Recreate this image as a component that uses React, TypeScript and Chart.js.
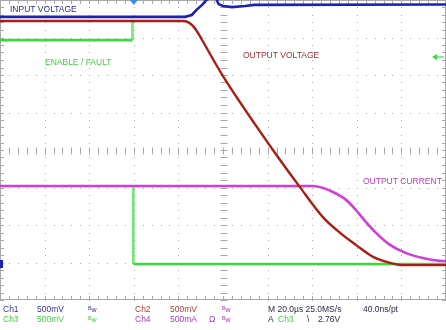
import React, { useEffect, useRef } from "react";
import { Chart, registerables } from "chart.js";

Chart.register(...registerables);

// Time axis in µs (20 µs/div, trigger at 0), vertical axis in divisions (8 div, centre 0)
const timeMin = -60;
const timeMax = 140;
const timePerDiv = 20;
const divMin = -4;
const divMax = 4;

// Ch1 – INPUT VOLTAGE (blue)
const ch1Time = [-60, 23, 26, 28, 31, 32.5, 34, 37, 38, 40, 44, 50, 54, 140];
const ch1Div = [3.55, 3.55, 3.6, 3.73, 3.89, 4.0, 4.05, 4.03, 3.89, 3.84, 3.81, 3.84, 3.87, 3.88];

// Ch2 – OUTPUT VOLTAGE (dark red)
const ch2Time = [-60, 22, 24.3, 26.5, 28.8, 31.9, 40, 62.4, 74.5, 84.8, 92.5, 99.6, 107.3, 114.9, 120.7, 140];
const ch2Div = [3.44, 3.44, 3.41, 3.31, 3.12, 2.8, 1.97, 0, -0.99, -1.79, -2.21, -2.53, -2.85, -3.01, -3.07, -3.07];

// Ch3 – ENABLE / FAULT (green)
const ch3Time = [-60, -0.6, -0.6, -0.2, -0.2, 140];
const ch3Div = [2.93, 2.93, 3.47, -0.99, -3.04, -3.04];

// Ch4 – OUTPUT CURRENT (magenta)
const ch4Time = [-60, 80.4, 84.8, 89.3, 95.2, 99.6, 104.1, 108.6, 114.9, 122.1, 129.7, 138.7, 140];
const ch4Div = [-0.96, -0.96, -1.01, -1.12, -1.33, -1.6, -1.92, -2.21, -2.53, -2.75, -2.88, -2.96, -2.96];

const traceLabels = ["INPUT VOLTAGE", "ENABLE / FAULT", "OUTPUT VOLTAGE", "OUTPUT CURRENT"];
const statusRow1 = ["Ch1", "500mV", "Ch2", "500mV", "M 20.0µs 25.0MS/s", "40.0ns/pt"];
const statusRow2 = ["Ch3", "500mV", "Ch4", "500mA", "A", "Ch3", "\\", "2.76V"];
const triggerLevelDiv = 2.48;
const ch1GroundDiv = -3.04;

const BLUE = "#1c22b4";
const RED = "#ac1c14";
const GREEN = "#38dc38";
const MAGENTA = "#d23cd8";
const GRID = "#a8a8a8";
const FONT = "Liberation Sans, Arial, sans-serif";

const pts = (t: number[], v: number[]) => t.map((x, i) => ({ x, y: v[i] }));

const graticule = {
  id: "graticule",
  beforeDatasetsDraw(chart: any) {
    const { ctx, chartArea: a, scales } = chart;
    const xs = scales.x;
    const ys = scales.y;
    ctx.save();
    ctx.fillStyle = GRID;
    const nX = (timeMax - timeMin) / timePerDiv;
    const nY = divMax - divMin;
    // dotted grid lines
    for (let i = 1; i < nX; i++) {
      const px = Math.round(xs.getPixelForValue(timeMin + i * timePerDiv));
      for (let k = 0; k <= nY * 5; k++) {
        const py = Math.round(ys.getPixelForValue(divMin + k * 0.2));
        ctx.fillRect(px, py, 1, 1);
      }
    }
    for (let j = 1; j < nY; j++) {
      const py = Math.round(ys.getPixelForValue(divMin + j));
      for (let k = 0; k <= nX * 5; k++) {
        const px = Math.round(xs.getPixelForValue(timeMin + (k * timePerDiv) / 5));
        ctx.fillRect(px, py, 1, 1);
      }
    }
    ctx.strokeStyle = GRID;
    ctx.lineWidth = 1;
    // centre cross ticks
    const cx = Math.round(xs.getPixelForValue((timeMin + timeMax) / 2)) + 0.5;
    const cy = Math.round(ys.getPixelForValue(0)) + 0.5;
    ctx.beginPath();
    for (let k = 0; k <= nY * 5; k++) {
      const py = Math.round(ys.getPixelForValue(divMin + k * 0.2)) + 0.5;
      ctx.moveTo(cx - 3, py);
      ctx.lineTo(cx + 4, py);
      ctx.moveTo(a.left, py);
      ctx.lineTo(a.left + 4, py);
      ctx.moveTo(a.right - 4, py);
      ctx.lineTo(a.right, py);
    }
    for (let k = 0; k <= nX * 5; k++) {
      const px = Math.round(xs.getPixelForValue(timeMin + (k * timePerDiv) / 5)) + 0.5;
      ctx.moveTo(px, cy - 3);
      ctx.lineTo(px, cy + 4);
      ctx.moveTo(px, a.top);
      ctx.lineTo(px, a.top + 4);
      ctx.moveTo(px, a.bottom - 4);
      ctx.lineTo(px, a.bottom);
    }
    ctx.stroke();
    // frame
    ctx.strokeRect(a.left + 0.5, a.top + 0.5, a.right - a.left - 1, a.bottom - a.top - 1);
    ctx.restore();
  },
};

const overlay = {
  id: "overlay",
  afterDatasetsDraw(chart: any) {
    const { ctx, chartArea: a, scales } = chart;
    const xs = scales.x;
    const ys = scales.y;
    ctx.save();
    ctx.textBaseline = "middle";
    ctx.textAlign = "left";
    ctx.font = `8.5px ${FONT}`;
    ctx.fillStyle = "#2a2c8e";
    ctx.fillText(traceLabels[0], 10, 10);
    ctx.fillStyle = "#44cc44";
    ctx.fillText(traceLabels[1], 45, 63);
    ctx.fillStyle = "#a03232";
    ctx.fillText(traceLabels[2], 243, 56);
    ctx.fillStyle = "#b442c0";
    ctx.fillText(traceLabels[3], 363, 182);

    // trigger position marker
    const tx = xs.getPixelForValue(0);
    ctx.fillStyle = "#3c8ce0";
    ctx.beginPath();
    ctx.moveTo(tx - 4, a.top);
    ctx.lineTo(tx + 4, a.top);
    ctx.lineTo(tx, a.top + 5);
    ctx.closePath();
    ctx.fill();

    // trigger level arrow (right edge)
    const ty = ys.getPixelForValue(triggerLevelDiv);
    ctx.strokeStyle = GREEN;
    ctx.fillStyle = GREEN;
    ctx.lineWidth = 1.2;
    ctx.beginPath();
    ctx.moveTo(a.right - 2, ty);
    ctx.lineTo(a.right - 11, ty);
    ctx.stroke();
    ctx.beginPath();
    ctx.moveTo(a.right - 14, ty);
    ctx.lineTo(a.right - 9, ty - 3);
    ctx.lineTo(a.right - 9, ty + 3);
    ctx.closePath();
    ctx.fill();

    // channel 1 ground marker (left edge)
    const gy = ys.getPixelForValue(ch1GroundDiv);
    ctx.fillStyle = BLUE;
    ctx.fillRect(a.left, gy - 4, 3, 8);
    ctx.restore();
  },
  afterDraw(chart: any) {
    const { ctx } = chart;
    ctx.save();
    ctx.textBaseline = "middle";
    ctx.textAlign = "left";
    const y1 = 310;
    const y2 = 320;
    const navy = "#2c3a98";
    const red = "#b03c3c";
    const green = "#44d044";
    const purple = "#a63cb4";
    const dark = "#2a2a48";
    const t = (s: string, x: number, y: number, c: string, size = 8.5) => {
      ctx.font = `${size}px ${FONT}`;
      ctx.fillStyle = c;
      ctx.fillText(s, x, y);
    };
    const bw = (x: number, y: number, c: string) => {
      t("B", x, y - 1.5, c, 5.5);
      t("w", x + 3.5, y + 0.5, c, 7);
    };
    t(statusRow1[0], 3, y1, navy);
    t(statusRow1[1], 37, y1, navy);
    bw(88, y1, navy);
    t(statusRow1[2], 135, y1, red);
    t(statusRow1[3], 170, y1, red);
    bw(222, y1, purple);
    t(statusRow1[4], 268, y1, dark);
    t(statusRow1[5], 363, y1, dark);

    t(statusRow2[0], 3, y2, green);
    t(statusRow2[1], 37, y2, green);
    bw(88, y2, green);
    t(statusRow2[2], 135, y2, purple);
    t(statusRow2[3], 170, y2, purple);
    t("Ω", 209, y2, purple);
    bw(222, y2, purple);
    t(statusRow2[4], 268, y2, dark);
    t(statusRow2[5], 278, y2, green);
    t(statusRow2[6], 307, y2, dark);
    t(statusRow2[7], 318, y2, dark);
    ctx.restore();
  },
};

export default function App() {
  const ref = useRef<HTMLCanvasElement | null>(null);
  useEffect(() => {
    if (!ref.current) return;
    const chart = new Chart(ref.current, {
      type: "line",
      data: {
        datasets: [
          {
            label: "Ch2",
            data: pts(ch2Time, ch2Div),
            borderColor: RED,
            borderWidth: 2.4,
            cubicInterpolationMode: "monotone",
          },
          {
            label: "Ch4",
            data: pts(ch4Time, ch4Div),
            borderColor: MAGENTA,
            borderWidth: 2.6,
            cubicInterpolationMode: "monotone",
          },
          {
            label: "Ch3",
            data: pts(ch3Time, ch3Div),
            borderColor: GREEN,
            borderWidth: 2.6,
            segment: {
              borderColor: (c: any) =>
                c.p0DataIndex === 2 ? "rgba(0,0,0,0)" : c.p0DataIndex === 1 || c.p0DataIndex === 3 ? "rgba(56,220,56,0.7)" : GREEN,
            },
          },
          {
            label: "Ch1",
            data: pts(ch1Time, ch1Div),
            borderColor: BLUE,
            borderWidth: 2.6,
          },
        ],
      },
      options: {
        responsive: false,
        animation: false,
        layout: { padding: { left: 0, right: 0, top: 0, bottom: 30 } },
        elements: { point: { radius: 0 }, line: { tension: 0 } },
        scales: {
          x: { type: "linear", min: timeMin, max: timeMax, display: false },
          y: { type: "linear", min: divMin, max: divMax, display: false },
        },
        plugins: { legend: { display: false }, tooltip: { enabled: false } },
      } as any,
      plugins: [graticule, overlay],
    });
    return () => chart.destroy();
  }, []);
  return (
    <div style={{ position: "fixed", left: 0, top: 0, width: 446, height: 330, background: "#ffffff" }}>
      <canvas ref={ref} width={446} height={330} style={{ display: "block" }} />
    </div>
  );
}
